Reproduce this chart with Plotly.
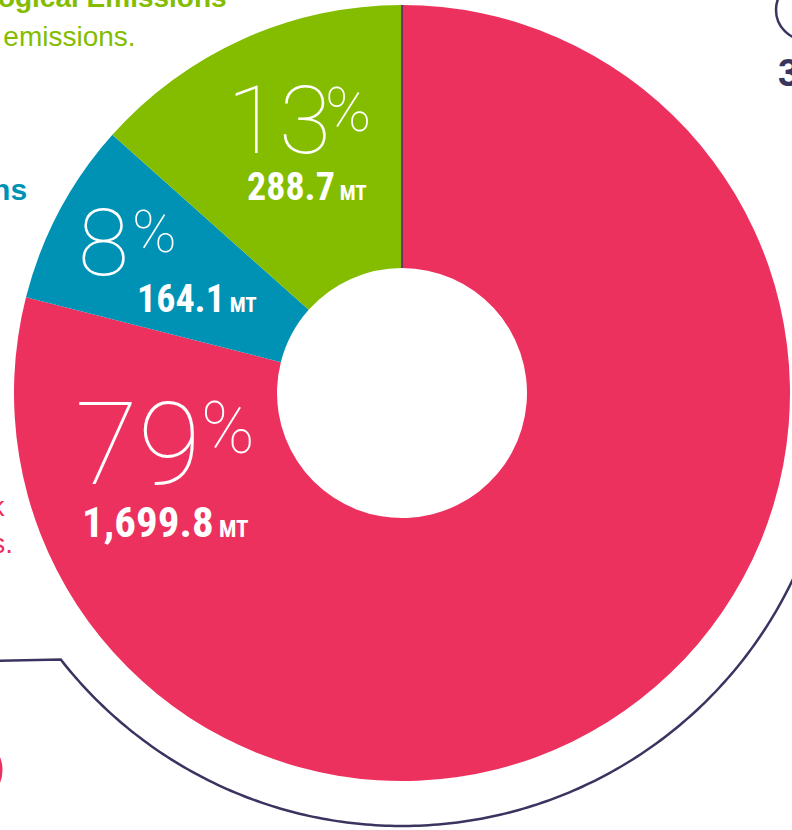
"""
Donut of emissions by source, cropped infographic style.
"""
import numpy as np
import plotly.graph_objects as go

W, H = 792, 830

labels = ["Red source", "Blue source", "Green source"]
values_mt = [1699.8, 164.1, 288.7]
pct_labels = ["79", "8", "13"]
mt_labels = ["1,699.8", "164.1", "288.7"]
colors = ["#ED315E", "#0092B4", "#84BD00"]

NAVY = "#3A3560"
THIN = "Roboto"
BOLD = "Liberation Sans Narrow, Roboto Condensed, Roboto, sans-serif"

# pie geometry in pixels
cx, cy, r, r_hole, r_ring = 402, 393, 388, 125, 433


def px(x):
    return x / W


def py(y):
    return 1 - y / H


fig = go.Figure(
    go.Pie(
        labels=labels,
        values=values_mt,
        marker=dict(colors=colors, line=dict(width=0)),
        hole=r_hole / r,
        sort=False,
        direction="clockwise",
        rotation=0,
        textinfo="none",
        hoverinfo="label+value+percent",
        showlegend=False,
        domain=dict(x=[px(cx - r), px(cx + r)], y=[py(cy + r), py(cy - r)]),
    )
)

# label positions (pixels): big % number, % sign, bold MT value (x, y, size, MT size)
label_pos = [
    dict(num=(73, 444, 115), sign=(199, 429, 72), val=(80, 522, 43, 23)),
    dict(num=(76, 243, 93), sign=(130, 231, 60), val=(135, 299, 38, 21)),
    dict(num=(225, 121, 95), sign=(323, 110, 62), val=(245, 187, 38, 21)),
]

annotations = []
for pct, mt, pos in zip(pct_labels, mt_labels, label_pos):
    for key, text in [("num", pct), ("sign", "%")]:
        x, y, s = pos[key]
        annotations.append(dict(
            x=px(x), y=py(y), xref="paper", yref="paper", text=text,
            xanchor="left", yanchor="middle", showarrow=False,
            font=dict(family=THIN, size=s, color="white", weight=100),
        ))
    x, y, s, s_mt = pos["val"]
    annotations.append(dict(
        x=px(x), y=py(y), xref="paper", yref="paper",
        text=f"{mt}<span style='font-size:{s_mt}px'> MT</span>",
        xanchor="left", yanchor="middle", showarrow=False,
        font=dict(family=BOLD, size=s, color="white", weight=700),
    ))

# cropped surrounding copy of the infographic
side_text = [
    ("Biological Emissions", 229, -2, 28, 700, "#84BD00"),
    ("from biological emissions.", 138, 36, 28, 400, "#84BD00"),
    ("Energy Emissions", 29, 189, 30, 700, "#0092B4"),
    ("from fuel combustion, k", 7, 506, 28, 400, "#ED315E"),
    ("agricultural emissions.", 15, 543, 28, 400, "#ED315E"),
    ("3", 776, 73, 38, 700, NAVY),
]
for text, x, y, s, wt, col in side_text:
    annotations.append(dict(
        x=px(x), y=py(y), xref="paper", yref="paper", text=text,
        xanchor="left" if text == "3" else "right", yanchor="middle", showarrow=False,
        font=dict(family="Liberation Sans, Arial, sans-serif", size=s, color=col, weight=wt),
    ))

# outer callout ring: horizontal leader then arc around the bottom
ang = np.radians(np.linspace(218, 345, 200))
pts = [(-20, 661)] + [(cx + r_ring * np.cos(a), cy - r_ring * np.sin(a)) for a in ang]
path = "M " + " L ".join(f"{px(x):.5f},{py(y):.5f}" for x, y in pts)

shapes = [
    dict(type="path", path=path, xref="paper", yref="paper",
         line=dict(color=NAVY, width=2.5)),
    dict(type="line", xref="paper", yref="paper", x0=px(cx), x1=px(cx),
         y0=py(cy - r), y1=py(cy - r_hole), line=dict(color=NAVY, width=1.5)),
    dict(type="circle", xref="paper", yref="paper", x0=px(776), x1=px(836),
         y0=py(40), y1=py(-20), line=dict(color=NAVY, width=2.5)),
    dict(type="circle", xref="paper", yref="paper", x0=px(-62), x1=px(1),
         y0=py(802), y1=py(738), line=dict(color="#ED315E", width=3)),
]

fig.update_layout(
    width=W,
    height=H,
    margin=dict(l=0, r=0, t=0, b=0),
    paper_bgcolor="white",
    plot_bgcolor="white",
    annotations=annotations,
    shapes=shapes,
)
# drop the browser's default 8px body margin so the figure sits at the page corner
fig.write_html(
    "out.html",
    config={"displayModeBar": False},
    post_script="document.body.style.margin='0';",
)
